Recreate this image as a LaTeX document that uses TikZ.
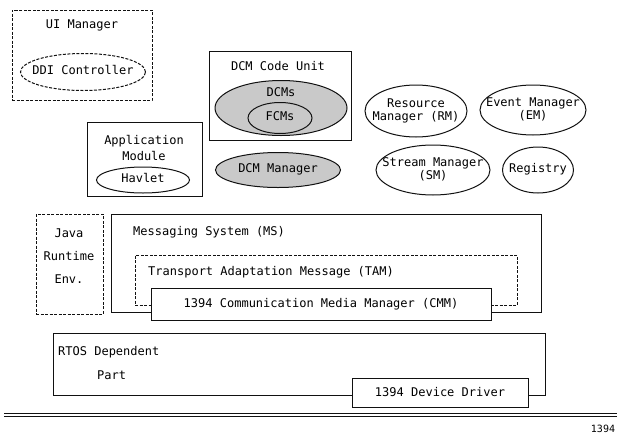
\documentclass[tikz,border=0pt]{standalone}
\usepackage{fontspec}
\setmainfont{DejaVu Sans Mono}
\usepackage{tikz}
\usetikzlibrary{positioning,shapes.geometric}
\definecolor{inkc}{HTML}{111111}
\definecolor{dotc}{HTML}{C9C9C9}
\newcommand{\nw}[1]{\makebox[0pt]{\begin{tabular}{@{}c@{}}#1\end{tabular}}}
\tikzset{
  box/.style={draw=inkc,line width=1pt,fill=white,inner sep=0pt},
  dbox/.style={draw=inkc,line width=1pt,dash pattern=on 3pt off 1.5pt,inner sep=0pt},
  ell/.style={ellipse,draw=inkc,line width=1pt,fill=white,inner sep=0pt,align=center,font=\fontsize{12}{13}\selectfont},
  gell/.style={ellipse,draw=inkc,line width=1pt,fill=dotc,inner sep=0pt,align=center,font=\fontsize{12}{13}\selectfont},
  lbl/.style={font=\fontsize{12}{13}\selectfont,align=center,inner sep=0pt}
}
\begin{document}
\begin{tikzpicture}[x=1pt,y=-1pt]
\useasboundingbox (0,0) rectangle (617,434);
% upper part
\node[dbox,minimum width=140pt,minimum height=90pt] (uim) at (82,55) {};
\node[lbl] (uimt) at (82,25) {UI Manager};
\node[ell,dash pattern=on 3pt off 1.5pt,minimum width=125pt,minimum height=37pt] (ddi) at (83,72) {\nw{DDI Controller}};
\node[box,minimum width=115pt,minimum height=74pt] (app) at (144.5,159) {};
\node[lbl,font=\fontsize{12}{16}\selectfont] (appt) at (144,148) {Application\\Module};
\node[ell,minimum width=93pt,minimum height=26pt] (hav) at (143,180) {\nw{Havlet}};
\node[box,minimum width=142pt,minimum height=89pt] (dcu) at (280,95.5) {};
\node[lbl] (dcut) at (278,66) {DCM Code Unit};
\node[gell,minimum width=132pt,minimum height=55pt] (dcms) at (281,108) {};
\node[lbl] (dcmst) at (281,92) {DCMs};
\node[gell,minimum width=64pt,minimum height=31pt] (fcms) at (280,118) {\nw{FCMs}};
\node[gell,minimum width=125pt,minimum height=35pt] (dcmm) at (278,170) {\nw{DCM Manager}};
\node[ell,minimum width=102pt,minimum height=52pt] (rm) at (416,111) {\nw{Resource\\Manager (RM)}};
\node[ell,minimum width=106pt,minimum height=50pt] (em) at (533,110) {\nw{Event Manager\\(EM)}};
\node[ell,minimum width=114pt,minimum height=50pt] (sm) at (433,170) {\nw{Stream Manager\\(SM)}};
\node[ell,minimum width=71pt,minimum height=46pt] (reg) at (538,170) {\nw{Registry}};
% lower part
\node[dbox,minimum width=67pt,minimum height=100pt] (jre) at (69.5,264) {};
\node[lbl,font=\fontsize{12}{23}\selectfont] (jret) at (69,256) {Java\\Runtime\\Env.};
\node[box,minimum width=430pt,minimum height=98pt] (ms) at (326,263) {};
\node[lbl,anchor=west] (mst) at (133,232) {Messaging System (MS)};
\node[dbox,minimum width=382pt,minimum height=50pt] (tam) at (326,280) {};
\node[lbl,anchor=west] (tamt) at (148,272) {Transport Adaptation Message (TAM)};
\node[box,lbl,draw=inkc,line width=1pt,fill=white,minimum width=340pt,minimum height=32pt] (cmm) at (321,304) {1394 Communication Media Manager (CMM)};
\node[box,minimum width=492pt,minimum height=62pt] (rtos) at (299,364) {};
\node[lbl,anchor=west] (rtost) at (58,352) {RTOS Dependent};
\node[lbl,anchor=west] (partt) at (97,375) {Part};
\node[box,lbl,draw=inkc,line width=1pt,fill=white,minimum width=176pt,minimum height=29pt] (dd) at (440,392.5) {1394 Device Driver};
% bus
\coordinate (busl) at (4,415);
\coordinate (busr) at (617,415);
\draw[inkc,double,line width=0.9pt,double distance=2.6pt] (busl) -- (busr);
\node[lbl,font=\fontsize{10}{11}\selectfont] (bust) at (603,429) {1394};
\end{tikzpicture}
\end{document}
